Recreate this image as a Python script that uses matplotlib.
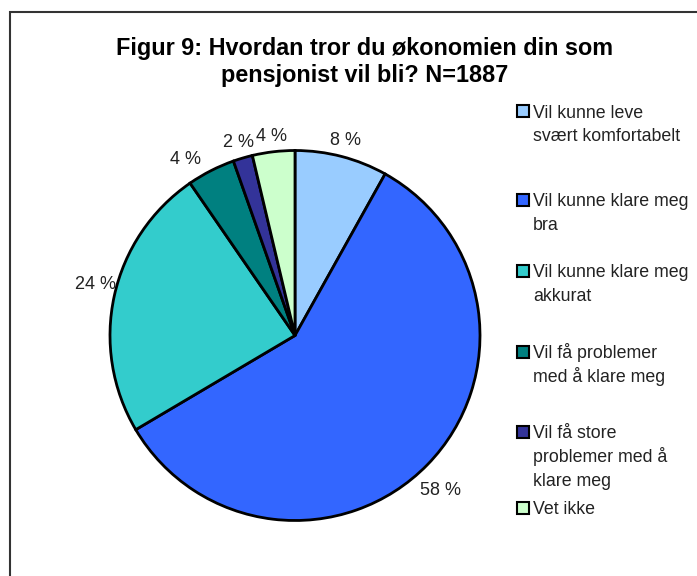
import numpy as np
import matplotlib.pyplot as plt
import matplotlib.patches as patches

# dados do gráfico
kategorier = ['Vil kunne leve\nsvært komfortabelt',
              'Vil kunne klare meg\nbra',
              'Vil kunne klare meg\nakkurat',
              'Vil få problemer\nmed å klare meg',
              'Vil få store\nproblemer med å\nklare meg',
              'Vet ikke']
andeler = [8.1, 58.4, 23.9, 4.2, 1.7, 3.7]
farger = ['#99CCFF', '#3366FF', '#33CCCC', '#008080', '#333399', '#CCFFCC']
tittel = 'Figur 9: Hvordan tror du økonomien din som\npensjonist vil bli? N=1887'

W, H = 697, 576
fonte = ['Liberation Sans', 'DejaVu Sans']

fig = plt.figure(figsize=(W / 100, H / 100), dpi=100)

# ramme rundt figuren (bare venstre og øvre kant synlige)
fig.add_artist(patches.Rectangle((9.5 / W, -0.05), 1.0, (H - 12) / H + 0.05,
                                 transform=fig.transFigure, fill=False,
                                 edgecolor='#333333', linewidth=1.5))

# kakediagram
cx, cy, r = 295, 335.5, 185
ax = fig.add_axes([(cx - r) / W, (H - cy - r) / H, 2 * r / W, 2 * r / H])
kiler, _ = ax.pie(andeler, colors=farger, startangle=90, counterclock=False,
                  radius=1,
                  wedgeprops=dict(edgecolor='black', linewidth=2))

# prosentetiketter utenfor kaka, som i Excel
avstand = [1.09, 1.15, 1.115, 1.12, 1.09, 1.085]
vinkel_just = [0, -2.5, -2, 5, 0, 0]
for kile, verdi, d, dv in zip(kiler, andeler, avstand, vinkel_just):
    midt = np.radians((kile.theta1 + kile.theta2) / 2 + dv)
    ax.text(d * np.cos(midt), d * np.sin(midt), f'{verdi:.0f} %',
            ha='center', va='center', fontsize=13, family=fonte,
            color='#222222')

ax.set_xlim(-1, 1)
ax.set_ylim(-1, 1)
ax.set_aspect('equal')
ax.axis('off')

# tittel
fig.text(365 / W, 1 - 62 / H, tittel, ha='center', va='center',
         fontsize=16.8, fontweight='bold', family=fonte,
         linespacing=1.22)

# forklaring (legend) plassert manuelt, linje for linje
rad_y = [111, 200, 271, 352, 432, 508]
linjeavstand = 23.5
for kat, farge, y in zip(kategorier, farger, rad_y):
    fig.add_artist(patches.Rectangle((516.5 / W, 1 - (y + 6) / H), 12 / W, 12 / H,
                                     transform=fig.transFigure, facecolor=farge,
                                     edgecolor='black', linewidth=1.5))
    for i, linje in enumerate(kat.split('\n')):
        fig.text(533 / W, 1 - (y + 6.5 + i * linjeavstand) / H, linje,
                 ha='left', va='baseline', fontsize=12.8, family=fonte,
                 color='#222222')

plt.savefig('out.png', dpi=100)
